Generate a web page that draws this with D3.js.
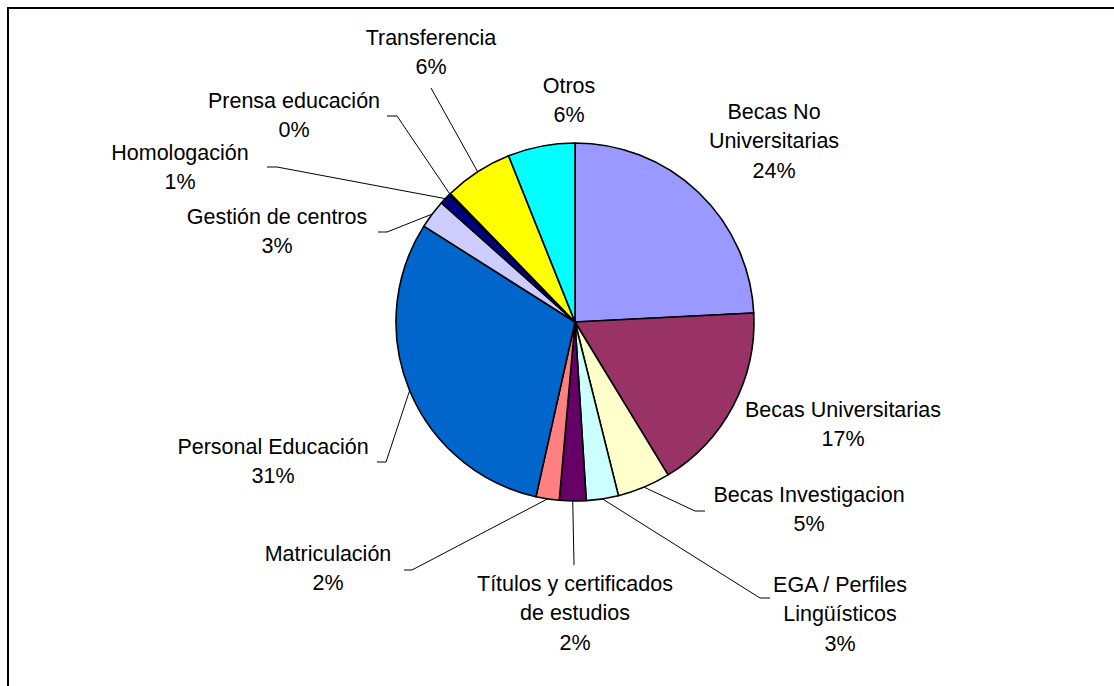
<!DOCTYPE html>
<html><head><meta charset="utf-8">
<script src="https://cdn.jsdelivr.net/npm/d3@7"></script>
<style>body{margin:0;background:#fff}svg{display:block}text{font-family:"Liberation Sans",Arial,sans-serif;font-size:21.5px;fill:#000}</style>
</head><body>
<svg id="c" width="1114" height="686"></svg>
<script>
const categories = ["Becas No Universitarias","Becas Universitarias","Becas Investigacion","EGA / Perfiles Lingüísticos","Títulos y certificados de estudios","Matriculación","Personal Educación","Gestión de centros","Homologación","Prensa educación","Transferencia","Otros"];
const values = [24.2,17.1,4.8,2.9,2.4,2.1,30.5,2.6,1.0,0.15,6.2,6.05];
const pctLabels = ["24%","17%","5%","3%","2%","2%","31%","3%","1%","0%","6%","6%"];
const labelLines = [["Becas No","Universitarias"],["Becas Universitarias"],["Becas Investigacion"],["EGA / Perfiles","Lingüísticos"],["Títulos y certificados","de estudios"],["Matriculación"],["Personal Educación"],["Gestión de centros"],["Homologación"],["Prensa educación"],["Transferencia"],["Otros"]];
const colors = ["#9999FF","#993366","#FFFFCC","#CCFFFF","#660066","#FF8080","#0066CC","#CCCCFF","#000080","#000000","#FFFF00","#00FFFF"];

// layout (label block centre x, first line centre y; leader attach point and hook)
const layout = [
  {x:774,y:111,leader:null},
  {x:843,y:409,leader:null},
  {x:809,y:494,leader:{x:705,y:511,hook:-10}},
  {x:840,y:584,leader:{x:770,y:598,hook:-10}},
  {x:575,y:583,leader:{x:574,y:565,hook:0}},
  {x:328,y:553,leader:{x:404,y:570,hook:8}},
  {x:273,y:446,leader:{x:377,y:462,hook:9}},
  {x:277,y:216,leader:{x:378,y:232,hook:9}},
  {x:180,y:152,leader:{x:267,y:167,hook:10}},
  {x:294,y:100,leader:{x:387,y:116,hook:10}},
  {x:431,y:37,leader:{x:431,y:88,hook:0}},
  {x:569,y:85,leader:null}
];
const cx=575, cy=322, R=179, lineH=29.5;

const svg=d3.select("#c");
svg.append("rect").attr("x",8).attr("y",8).attr("width",1300).attr("height",900)
  .attr("fill","none").attr("stroke","#000").attr("stroke-width",2);

const data=categories.map((c,i)=>({c,v:values[i],i}));
const pie=d3.pie().value(d=>d.v).sort(null);
const arcs=pie(data);
const arc=d3.arc().innerRadius(0).outerRadius(R);
const g=svg.append("g").attr("transform",`translate(${cx},${cy})`);
g.selectAll("path").data(arcs).join("path")
  .attr("d",arc).attr("fill",d=>colors[d.data.i])
  .attr("stroke","#000").attr("stroke-width",1.6).attr("stroke-linejoin","round");

// leader lines
const rim=d3.arc().innerRadius(R).outerRadius(R);
arcs.forEach((a,i)=>{
  const L=layout[i].leader; if(!L) return;
  const p=rim.centroid(a);
  const pts=[[L.x,L.y],[L.x+L.hook,L.y],[cx+p[0],cy+p[1]]];
  svg.append("path").attr("d",d3.line()(pts)).attr("fill","none")
    .attr("stroke","#000").attr("stroke-width",1);
});

// labels
arcs.forEach((a,i)=>{
  const lines=labelLines[i].concat([pctLabels[i]]);
  const t=svg.append("text").attr("text-anchor","middle");
  lines.forEach((s,k)=>{
    t.append("tspan").attr("x",layout[i].x).attr("y",layout[i].y+k*lineH).attr("dy","0.35em").text(s);
  });
});
</script>
</body></html>
